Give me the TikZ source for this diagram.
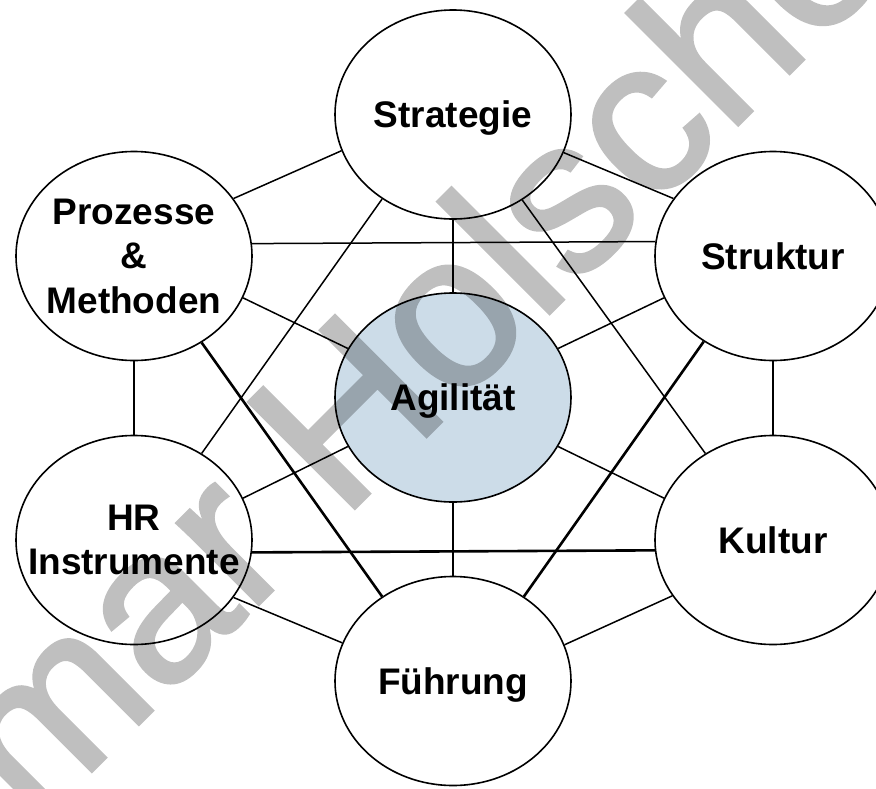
\documentclass[tikz,border=0pt]{standalone}
\usepackage{fontspec}
\setmainfont{Liberation Sans}
\newfontfamily\wmfont[FakeBold=1.6]{Liberation Sans}
\usetikzlibrary{shapes.geometric}
\definecolor{agile}{RGB}{204,220,232}
\begin{document}
\begin{tikzpicture}[x=1pt,y=-1pt,
  field/.style={ellipse,draw=black,line width=1.6pt,fill=white,
    minimum width=236pt,minimum height=209pt,inner sep=0pt},
  caption/.style={align=center,inner sep=0pt,text depth=0pt,
    font=\bfseries\fontsize{37}{44.5}\selectfont},
  link/.style={line width=1.5pt},
  boldlink/.style={line width=2.6pt}]
\useasboundingbox (0,0) rectangle (876,788);

% the seven fields
\node[field] (S)  at (453,114.5) {};
\node[field] (P)  at (134,256)   {};
\node[field] (St) at (773,256)   {};
\node[field,fill=agile] (A) at (453,397.5) {};
\node[field] (HR) at (134,540)   {};
\node[field] (K)  at (773,540)   {};
\node[field] (F)  at (453,681)   {};

% their captions
\node[caption] (S-t)  at (S)  {Strategie};
\node[caption] (P-t)  at (P)  {Prozesse\\\&\\Methoden};
\node[caption] (St-t) at (St) {Struktur};
\node[caption] (A-t)  at (A)  {Agilität};
\node[caption] (HR-t) at (HR) {HR\\Instrumente};
\node[caption] (K-t)  at (K)  {Kultur};
\node[caption] (F-t)  at (F)  {Führung};

% outer ring
\draw[link] (P.30)    -- (S.198.5);
\draw[link] (S.341.5) -- (St.150);
\draw[link] (St.south) -- (K.north);
\draw[link] (K.209.5) -- (F.18.5);
\draw[link] (F.161.5) -- (HR.330);
\draw[link] (P.south) -- (HR.north);

% spokes to the centre
\draw[link] (S.south) -- (A.north);
\draw[link] (A.south) -- (F.north);
\draw[link] (P.339)   -- (A.155);
\draw[link] (A.25)    -- (St.201);
\draw[link] (A.335)   -- (K.159);
\draw[link] (HR.21)   -- (A.205);

% cross connections
\draw[link]     (P.6.3)    -- (St.173.7);
\draw[boldlink] (HR.354.2) -- (K.185.8);
\draw[link]     (S.230.5)  -- (HR.52);
\draw[link]     (S.309.5)  -- (K.128);
\draw[boldlink] (P.308.5)  -- (F.130);
\draw[boldlink] (St.231.5) -- (F.50);

% watermark, composited as one translucent layer
\begin{scope}[transparency group,opacity=0.25]
  \clip (0,0) rectangle (876,788);
  \node[anchor=base west,rotate=45,inner sep=0pt,
        font=\wmfont\fontsize{218}{218}\selectfont] (wm) at (34,829) {mar Holsche};
\end{scope}
\end{tikzpicture}
\end{document}
